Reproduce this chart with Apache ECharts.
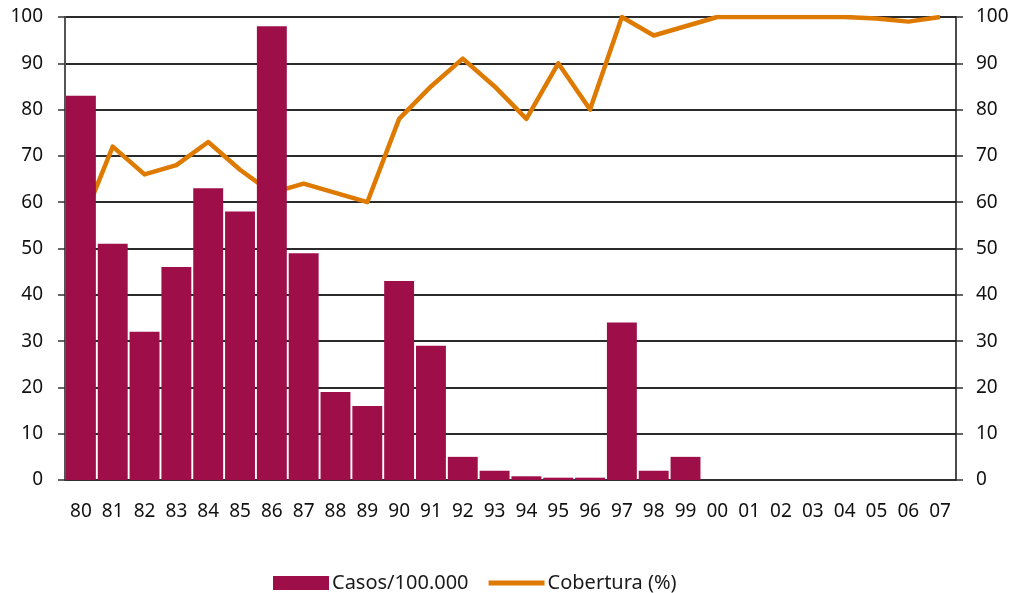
<!DOCTYPE html>
<html lang="es">
<head>
    <meta charset="UTF-8">
    <title>Casos y cobertura</title>
    <script src="https://cdn.jsdelivr.net/npm/echarts@6/dist/echarts.min.js"></script>
</head>
<body style="margin: 0; background-color: #FFFFFF">
<div id="container" style="width: 1016px; height: 593px"></div>
</body>
<script type="text/javascript">
    // datos
    let years = ['80', '81', '82', '83', '84', '85', '86', '87', '88', '89', '90', '91', '92', '93',
        '94', '95', '96', '97', '98', '99', '00', '01', '02', '03', '04', '05', '06', '07'];
    let casos = [83, 51, 32, 46, 63, 58, 98, 49, 19, 16, 43, 29, 5, 2,
        0.8, 0.5, 0.5, 34, 2, 5, 0, 0, 0, 0, 0, 0, 0, 0];
    let cobertura = [55, 72, 66, 68, 73, 67, 62, 64, 62, 60, 78, 85, 91, 85,
        78, 90, 80, 100, 96, 98, 100, 100, 100, 100, 100, 99.7, 99, 100];

    let font = '"Noto Sans", "Open Sans", sans-serif';
    let dom = document.getElementById("container");
    let myChart = echarts.init(dom);
    let option = {
        animation: false,
        grid: {left: 65, right: 60, top: 17, bottom: 113},
        legend: {
            top: 568,
            left: 268,
            itemGap: 20,
            itemWidth: 56,
            itemHeight: 14,
            textStyle: {fontFamily: font, fontSize: 20, color: '#1a1a1a', padding: [0, 0, 0, -2]},
            data: [
                {name: 'Casos/100.000', icon: 'rect'},
                {name: 'Cobertura (%)', icon: 'path://M0,0 L52,0 L52,4.5 L0,4.5 Z', itemStyle: {color: '#DF7A00'}}
            ]
        },
        xAxis: {
            type: 'category',
            data: years,
            axisLine: {lineStyle: {color: '#333', width: 1.5}},
            axisTick: {length: 7, lineStyle: {color: '#333', width: 1.5}},
            axisLabel: {fontFamily: font, fontSize: 19, color: '#111', margin: 22, interval: 0}
        },
        yAxis: [
            {
                type: 'value', min: 0, max: 100, interval: 10,
                axisLine: {show: true, lineStyle: {color: '#555', width: 2}},
                axisTick: {show: true, length: 7, lineStyle: {color: '#333', width: 1.5}},
                splitLine: {lineStyle: {color: '#2b2b2b', width: 1.8}},
                axisLabel: {fontFamily: font, fontSize: 19, color: '#111', margin: 22}
            },
            {
                type: 'value', min: 0, max: 100, interval: 10,
                axisLine: {show: true, lineStyle: {color: '#111', width: 1.5}},
                axisTick: {show: true, length: 7, lineStyle: {color: '#333', width: 1.5}},
                splitLine: {show: false},
                axisLabel: {fontFamily: font, fontSize: 19, color: '#111', margin: 20}
            }
        ],
        series: [
            {
                name: 'Casos/100.000',
                type: 'bar',
                yAxisIndex: 0,
                data: casos,
                barCategoryGap: '6%',
                z: 3,
                itemStyle: {color: '#9E0F4A'}
            },
            {
                name: 'Cobertura (%)',
                type: 'line',
                yAxisIndex: 1,
                data: cobertura,
                symbol: 'none',
                z: 2,
                lineStyle: {color: '#DF7A00', width: 4.5, join: 'round'},
                itemStyle: {color: '#DF7A00'}
            }
        ]
    };
    myChart.setOption(option, true);
</script>
</html>
